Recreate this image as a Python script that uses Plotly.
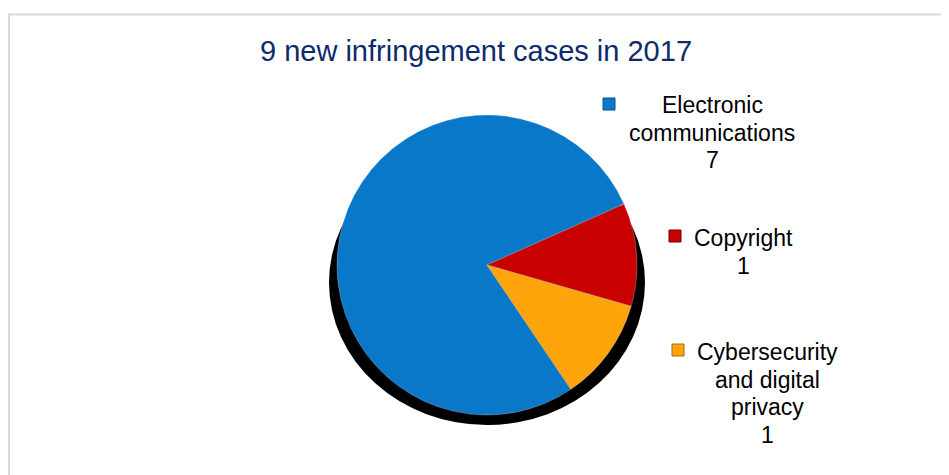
import plotly.graph_objects as go

# data
categories = ['Electronic communications', 'Copyright', 'Cybersecurity and digital privacy']
label_lines = [['Electronic', 'communications'], ['Copyright'], ['Cybersecurity', 'and digital', 'privacy']]
cases = [7, 1, 1]
colors = ['#0a78c8', '#c80000', '#ffa40a']
marker_edges = ['#06508a', '#7a0000', '#b06a00']

W, H = 949, 475
OFF = 8  # the page body adds an 8px margin


def px_x(x):
    return (x - OFF) / W


def px_y(y):
    return 1 - (y - OFF) / H


fig = go.Figure()

# pie itself
fig.add_trace(go.Pie(
    labels=categories,
    values=cases,
    sort=False,
    direction='clockwise',
    rotation=146,
    marker=dict(colors=colors, line=dict(color='rgba(255,255,255,0.25)', width=1)),
    textinfo='none',
    hoverinfo='label+value',
    showlegend=False,
    domain=dict(x=[px_x(337), px_x(637)], y=[px_y(415), px_y(115)]),
))

shapes = []
# outer frame
shapes.append(dict(type='rect', xref='paper', yref='paper',
                   x0=px_x(9), x1=px_x(990), y0=px_y(520), y1=px_y(14.5),
                   line=dict(color='#d9d9d9', width=2), layer='below'))
# dark shadow under the pie (only peeks out at the sides and bottom)
shapes.append(dict(type='circle', xref='paper', yref='paper',
                   x0=px_x(329), x1=px_x(645), y0=px_y(425), y1=px_y(140),
                   fillcolor='black', line=dict(width=0), layer='below'))

# label positions: centre x, y of first line; marker centres (pixels)
label_pos = [(712, 105), (743, 238), (767, 352)]
line_gap = 27.5
marker_pos = [(609, 104), (675, 236), (678, 350)]

annotations = []
for i in range(len(categories)):
    lx, ly = label_pos[i]
    lines = label_lines[i] + [str(cases[i])]
    for k, line in enumerate(lines):
        annotations.append(dict(
            x=px_x(lx), y=px_y(ly + k * line_gap), xref='paper', yref='paper',
            text=line, showarrow=False, xanchor='center', yanchor='middle',
            font=dict(family='Arial', size=23, color='black'),
        ))
    mx, my = marker_pos[i]
    shapes.append(dict(type='rect', xref='paper', yref='paper',
                       x0=px_x(mx - 6), x1=px_x(mx + 6), y0=px_y(my + 6), y1=px_y(my - 6),
                       fillcolor=colors[i], line=dict(color=marker_edges[i], width=1)))

fig.update_layout(
    width=W, height=H,
    margin=dict(l=0, r=0, t=0, b=0),
    paper_bgcolor='white',
    plot_bgcolor='white',
    title=dict(text='9 new infringement cases in 2017', x=px_x(476), xanchor='center',
               y=px_y(51), yref='container', yanchor='middle',
               font=dict(family='Arial', size=29, color='#0d2a6b')),
    shapes=shapes,
    annotations=annotations,
)

fig.write_html("out.html")
